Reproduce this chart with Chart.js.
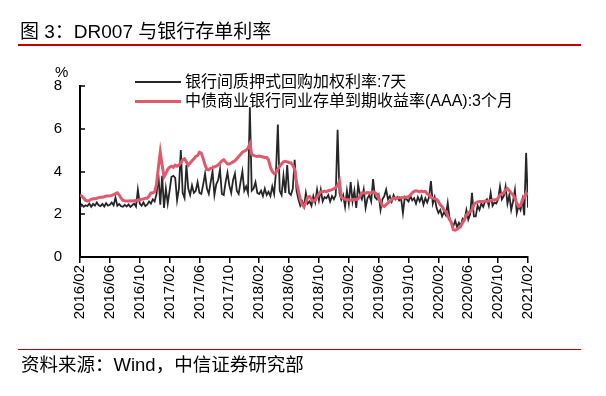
<!DOCTYPE html>
<html><head><meta charset="utf-8">
<script src="https://cdn.jsdelivr.net/npm/chart.js@4.4.1/dist/chart.umd.min.js"></script>
<style>
html,body{margin:0;padding:0;background:#fff;}
#wrap{position:relative;width:606px;height:396px;overflow:hidden;font-family:"Liberation Sans","Noto Sans CJK SC",sans-serif;color:#000;}
canvas{position:absolute;left:0;top:0;}
.t{position:absolute;white-space:nowrap;}
.ln{position:absolute;}
</style></head><body>
<div id="wrap">
<canvas id="c" width="606" height="396"></canvas>
<div class="t" style="left:20px;top:22px;font-size:19px;line-height:20px;">图 3：DR007 与银行存单利率</div>
<div class="ln" style="left:18px;top:44px;width:563px;height:1.5px;background:#c00000"></div>
<div class="t" style="left:55px;top:63px;font-size:15px;line-height:17px;">%</div>
<div class="ln" style="left:135px;top:81px;width:46px;height:2px;background:#262626"></div>
<div class="t" style="left:185px;top:73px;font-size:16px;line-height:18px;">银行间质押式回购加权利率:7天</div>
<div class="ln" style="left:135px;top:99.5px;width:46px;height:3px;background:#E05A6E"></div>
<div class="t" style="left:185px;top:92px;font-size:16px;line-height:18px;">中债商业银行同业存单到期收益率(AAA):3个月</div>
<div class="ln" style="left:18px;top:348.5px;width:563px;height:1.5px;background:#c00000"></div>
<div class="t" style="left:21px;top:355px;font-size:18.5px;line-height:20px;">资料来源：Wind，中信证券研究部</div>
</div>
<script>
// x position: months since 2016/02, 4 samples per month
const STEP = 0.25;
const tickLabels = ['2016/02','2016/06','2016/10','2017/02','2017/06','2017/10','2018/02','2018/06','2018/10','2019/02','2019/06','2019/10','2020/02','2020/06','2020/10','2021/02'];

// 银行间质押式回购加权利率:7天
const dr007 = [
2.30,2.45,2.35,2.42, 2.38,2.50,2.35,2.48, 2.40,2.55,2.42,2.38, 2.48,2.36,2.52,2.40,
2.44,2.55,2.42,2.78, 2.40,2.48,2.38,2.35, 2.44,2.36,2.46,2.34, 2.42,2.50,2.36,3.15,
2.50,2.40,2.55,2.38, 2.45,2.60,2.50,2.70, 2.60,2.95,3.85,2.45, 3.80,2.30,3.20,2.50,
3.10,3.75,3.80,3.70, 2.65,3.20,5.00,3.00, 2.76,4.30,3.20,2.90, 3.35,3.00,3.10,3.50,
3.00,2.95,3.40,3.90, 3.20,2.95,3.50,4.00, 2.90,3.40,3.60,4.10, 2.95,2.90,3.50,3.95,
3.35,3.00,3.60,3.90, 3.10,2.95,3.50,4.00, 3.10,3.30,3.00,7.00, 3.10,3.20,3.50,3.00,
2.95,3.10,2.85,3.20, 2.90,3.05,2.85,3.30, 2.95,4.00,6.20,3.10, 2.90,3.80,3.00,4.30,
3.00,2.90,3.20,4.55, 3.10,2.70,2.40,2.60, 2.35,3.00,2.50,2.60, 2.40,2.85,2.55,3.15,
2.65,3.15,2.60,2.80, 2.75,2.90,2.60,2.85, 2.70,2.90,5.95,3.00, 2.68,2.90,2.35,3.10,
2.50,3.50,2.60,3.10, 2.30,3.38,2.90,2.70, 3.15,2.30,2.75,2.90, 2.60,3.65,2.80,2.70,
2.90,2.20,2.70,2.85, 3.15,2.70,2.85,2.60, 2.90,2.70,2.80,2.65, 2.75,2.06,2.80,2.70,
2.60,2.85,2.65,2.75, 2.50,2.80,2.60,2.83, 2.45,2.75,2.55,2.80, 3.55,2.50,2.80,2.30,
2.06,2.20,1.90,2.10, 1.95,2.53,1.80,1.55, 1.45,1.70,1.40,1.60, 1.45,1.80,1.75,2.20,
1.75,2.00,3.00,1.90, 1.90,2.40,2.20,2.50, 2.35,2.60,2.70,2.40, 3.00,2.40,2.55,2.50,
2.70,3.30,2.70,2.85, 3.30,2.50,2.90,2.20, 2.60,3.14,2.06,2.40, 2.20,2.68,1.95,4.87,
2.30
];

// 中债商业银行同业存单到期收益率(AAA):3个月
const ncd3m = [
2.90,2.85,2.75,2.65, 2.62,2.65,2.70,2.72, 2.72,2.75,2.78,2.80, 2.80,2.82,2.85,2.85,
2.86,2.88,2.92,2.96, 3.00,2.90,2.75,2.65, 2.63,2.62,2.62,2.63, 2.62,2.63,2.64,2.65,
2.68,2.70,2.72,2.75, 2.75,2.85,3.00,3.00, 3.05,3.40,4.20,4.90, 4.30,3.75,3.90,4.10,
4.20,4.25,4.20,4.30, 4.25,4.30,4.40,4.55, 4.60,4.45,4.30,4.40, 4.50,4.60,4.70,4.75,
4.90,4.85,4.60,4.30, 4.10,4.08,4.15,4.18, 4.22,4.25,4.30,4.40, 4.50,4.55,4.45,4.35,
4.35,4.40,4.45,4.50, 4.60,4.70,4.80,4.90, 4.95,5.00,5.10,5.30, 4.80,4.75,4.72,4.70,
4.72,4.70,4.68,4.65, 4.65,4.55,4.20,4.00, 3.90,3.95,4.10,4.25, 4.35,4.45,4.48,4.45,
4.42,4.40,4.30,4.10, 3.50,3.10,2.70,2.45, 2.35,2.55,2.80,2.83, 2.70,2.60,2.65,2.80,
2.95,3.05,3.05,3.08, 3.05,3.10,3.12,3.15, 3.18,3.25,3.35,3.54, 2.80,2.74,2.70,2.68,
2.68,2.66,2.68,2.70, 2.68,2.72,2.85,3.00, 3.00,2.98,3.02,3.00, 3.02,3.05,3.00,2.95,
2.76,2.60,2.40,2.36, 2.45,2.53,2.60,2.70, 2.75,2.76,2.75,2.78, 2.76,2.78,2.80,2.80,
2.82,2.90,3.00,3.07, 3.10,3.08,3.05,3.08, 3.05,3.07,2.95,2.90, 2.80,2.76,2.72,2.70,
2.60,2.44,2.35,2.20, 2.13,1.95,1.75,1.60, 1.27,1.25,1.30,1.36, 1.45,1.60,1.75,1.97,
2.05,2.13,2.20,2.45, 2.53,2.58,2.60,2.60, 2.60,2.62,2.60,2.62, 2.64,2.66,2.68,2.68,
2.75,2.90,2.95,3.00, 3.14,3.20,3.10,3.00, 2.90,2.75,2.50,2.36, 2.40,2.68,2.80,3.00,
2.90
];

const inwardTicks = {
  id:'inwardTicks',
  afterDraw(chart){
    const y = chart.scales.y, ctx = chart.ctx, left = chart.chartArea.left;
    ctx.save(); ctx.strokeStyle='#000'; ctx.lineWidth=1.5;
    y.ticks.forEach(t=>{
      if (t.value === 0) return;
      const py = Math.round(y.getPixelForValue(t.value));
      ctx.beginPath(); ctx.moveTo(left, py); ctx.lineTo(left+5, py); ctx.stroke();
    });
    ctx.restore();
  }
};

new Chart(document.getElementById('c'), {
  type:'line',
  data:{datasets:[
    {label:'中债商业银行同业存单到期收益率(AAA):3个月', data: ncd3m.map((v,i)=>({x:i*STEP,y:v})),
     borderColor:'#E05A6E', borderWidth:3, pointRadius:0, tension:0, order:0},
    {label:'银行间质押式回购加权利率:7天', data: dr007.map((v,i)=>({x:i*STEP,y:v})),
     borderColor:'#262626', borderWidth:1.8, pointRadius:0, tension:0, order:1}
  ]},
  options:{
    responsive:false, animation:false, devicePixelRatio:1,
    layout:{padding:{left:0,top:86,right:78,bottom:0}},
    plugins:{legend:{display:false}, tooltip:{enabled:false}},
    scales:{
      x:{type:'linear', min:0, max:60,
         ticks:{stepSize:4, autoSkip:false, minRotation:90, maxRotation:90, padding:2,
                color:'#000', font:{family:'Liberation Sans', size:15},
                callback:(v)=>tickLabels[Math.round(v/4)]},
         grid:{display:true, drawOnChartArea:false, drawTicks:true, tickLength:6, color:'#000', lineWidth:1.5},
         border:{color:'#000', width:2},
         afterFit:(s)=>{s.height=139;}},
      y:{min:0, max:8,
         ticks:{stepSize:2, padding:18, color:'#000', font:{family:'Liberation Sans', size:15}},
         grid:{display:true, drawOnChartArea:false, drawTicks:false},
         border:{color:'#000', width:2},
         afterFit:(s)=>{s.width=80;}}
    }
  },
  plugins:[inwardTicks]
});
</script>
</body></html>
